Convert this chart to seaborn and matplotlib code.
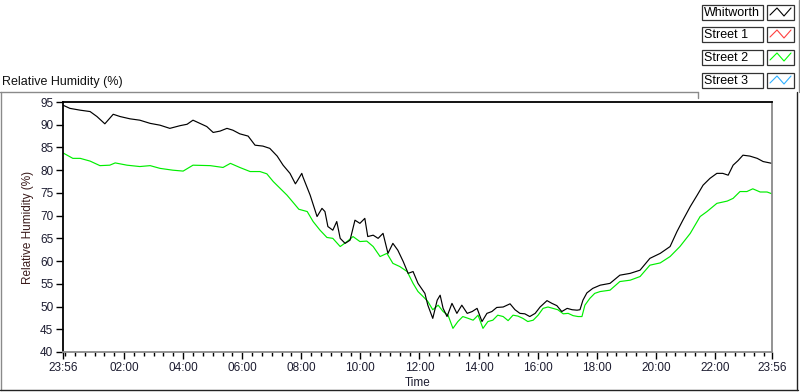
import matplotlib
matplotlib.use("Agg")
import matplotlib.pyplot as plt
from matplotlib.lines import Line2D
from matplotlib.patches import Rectangle
import seaborn as sns
import pandas as pd

# readings taken off the chart: minutes after 23:56, relative humidity (%)
whitworth_min = [0, 14, 35, 55, 69, 85, 102, 116, 136, 156, 177, 197, 217, 238, 252, 264,
                 278, 292, 305, 319, 333, 345, 359, 376, 390, 406, 420, 435, 447, 461, 472,
                 475, 485, 487, 502, 516, 526, 532, 538, 548, 556, 563, 573, 583, 593, 603,
                 613, 619, 630, 640, 650, 660, 670, 680, 691, 701, 711, 721, 735, 741, 751,
                 760, 766, 772, 780, 790, 800, 810, 821, 831, 841, 851, 861, 871, 881, 894,
                 908, 918, 928, 938, 948, 959, 969, 983, 993, 1003, 1013, 1024, 1034, 1044,
                 1050, 1056, 1064, 1076, 1091, 1111, 1131, 1152, 1172, 1192, 1213, 1233,
                 1247, 1259, 1274, 1288, 1300, 1314, 1328, 1340, 1351, 1361, 1371, 1381,
                 1395, 1410, 1422, 1440]
whitworth_rh = [94.3, 93.6, 93.2, 92.9, 91.8, 90.2, 92.3, 91.8, 91.3, 91.0, 90.3, 89.9, 89.2,
                89.8, 90.1, 91.0, 90.3, 89.6, 88.3, 88.6, 89.2, 88.8, 88.0, 87.5, 85.5, 85.3,
                84.8, 83.1, 81.1, 79.3, 77.0, 77.5, 79.3, 78.6, 74.5, 69.8, 71.6, 70.9, 67.6,
                66.8, 68.7, 65.0, 63.9, 64.6, 69.0, 68.3, 69.4, 65.4, 65.7, 65.0, 66.1, 61.7,
                63.9, 62.4, 59.9, 57.3, 57.7, 55.1, 52.9, 50.3, 47.4, 51.4, 52.5, 49.6, 47.8,
                50.7, 48.5, 50.3, 48.5, 48.9, 49.6, 46.7, 48.5, 48.9, 49.8, 49.9, 50.6, 49.3,
                48.5, 48.4, 47.8, 48.5, 49.9, 51.3, 50.7, 50.2, 48.9, 49.6, 49.3, 49.2, 49.3,
                51.4, 53.0, 54.0, 54.7, 55.1, 56.9, 57.3, 58.0, 60.6, 61.7, 63.2, 66.5, 69.0,
                72.0, 74.5, 76.7, 78.2, 79.3, 79.3, 78.9, 81.1, 82.1, 83.3, 83.1, 82.6, 81.9,
                81.5]

street2_min = [0, 20, 35, 55, 75, 95, 106, 130, 156, 177, 197, 223, 244, 264, 299, 325, 340,
               359, 380, 400, 414, 427, 441, 455, 469, 479, 496, 508, 522, 536, 548, 563, 577,
               589, 603, 617, 630, 644, 658, 670, 684, 699, 711, 721, 735, 741, 751, 762, 772,
               782, 792, 802, 812, 823, 833, 843, 853, 863, 873, 883, 894, 904, 914, 924, 934,
               944, 955, 965, 975, 985, 995, 1005, 1016, 1026, 1036, 1046, 1054, 1060, 1070,
               1080, 1091, 1111, 1131, 1152, 1172, 1192, 1213, 1233, 1253, 1274, 1294, 1308,
               1328, 1349, 1361, 1375, 1389, 1401, 1416, 1430, 1440]
street2_rh = [83.8, 82.6, 82.6, 82.0, 81.0, 81.1, 81.6, 81.1, 80.8, 81.0, 80.4, 80.0, 79.8,
              81.1, 81.0, 80.6, 81.5, 80.6, 79.7, 79.7, 79.2, 77.5, 76.0, 74.5, 72.7, 71.4,
              70.9, 68.7, 66.8, 65.2, 65.0, 63.2, 64.3, 65.4, 64.3, 64.4, 63.2, 61.0, 61.7,
              59.5, 58.8, 57.7, 55.1, 53.3, 51.8, 51.1, 49.3, 50.3, 48.9, 48.1, 45.2, 46.7,
              47.8, 47.4, 47.0, 48.1, 45.2, 46.7, 47.0, 48.1, 47.8, 46.9, 48.1, 47.9, 47.4,
              46.7, 47.0, 48.1, 49.6, 49.9, 49.6, 49.3, 48.4, 48.5, 48.0, 47.8, 47.8, 50.3,
              51.8, 52.9, 53.3, 53.6, 55.5, 55.8, 56.6, 59.1, 59.6, 61.0, 63.2, 66.1, 69.8,
              70.9, 72.7, 73.2, 73.8, 75.3, 75.3, 75.9, 75.2, 75.2, 74.8]

legend_names = ["Whitworth", "Street 1", "Street 2", "Street 3"]
legend_colors = ["#000000", "#ff4040", "#00ff00", "#30b0ff"]

tick_pos = [0, 124, 244, 364, 484, 604, 724, 844, 964, 1084, 1204, 1324, 1440]
tick_labels = ["23:56", "02:00", "04:00", "06:00", "08:00", "10:00", "12:00",
               "14:00", "16:00", "18:00", "20:00", "22:00", "23:56"]

sns.set_style("white")
plt.rcParams["font.family"] = ["Liberation Sans", "DejaVu Sans"]
txt = "#1c1c30"

W, H = 800, 392
fig = plt.figure(figsize=(8, 3.92), dpi=100)
ax = fig.add_axes([63 / W, 1 - 352 / H, 709 / W, 250 / H])

whit = pd.DataFrame({"minute": whitworth_min, "rh": whitworth_rh})
st2 = pd.DataFrame({"minute": street2_min, "rh": street2_rh})
sns.lineplot(data=st2, x="minute", y="rh", color="#00ee00", lw=0.85, ax=ax)
sns.lineplot(data=whit, x="minute", y="rh", color="black", lw=0.85, ax=ax)

ax.set_xlim(0, 1440)
ax.set_ylim(40, 95)
ax.set_yticks(range(40, 96, 5))
ax.set_xticks(tick_pos)
ax.set_xticklabels(tick_labels)
ax.set_xticks(range(4, 1440, 20), minor=True)
ax.tick_params(axis="both", which="major", direction="out", length=5, width=1,
               color="black", labelsize=8.5, labelcolor=txt, pad=2, left=True, bottom=True)
ax.tick_params(axis="x", which="minor", direction="out", length=3, width=1,
               color="black", bottom=True)
ax.set_xlabel("Time", fontsize=8.5, color=txt, labelpad=2)
ax.set_ylabel("Relative Humidity (%)", fontsize=8.5, color="#3a1a1a", labelpad=4)
for s in ["top", "left"]:
    ax.spines[s].set_color("black")
    ax.spines[s].set_linewidth(1.3)
for s in ["bottom", "right"]:
    ax.spines[s].set_color("#8a8a8a")
    ax.spines[s].set_linewidth(1.3)


def px(x, y):
    return x / W, 1 - y / H


def fline(x0, y0, x1, y1, color, lw=1.0):
    a, b = px(x0, y0)
    c, d = px(x1, y1)
    fig.add_artist(Line2D([a, c], [b, d], transform=fig.transFigure, color=color, lw=lw))


# outer panel frame
fline(0, 92, 698, 92, "#8a8a8a")
fline(1, 92, 1, 390, "#8a8a8a")
fline(0, 390, 798, 390, "#222222")
fline(797, 92, 797, 390, "#222222")
fline(698, 92, 698, 98, "#8a8a8a")
fline(799, 0, 799, 92, "#8a8a8a")
fig.text(2 / W, 1 - 82 / H, "Relative Humidity (%)", fontsize=9, color="#111111",
         va="center", ha="left")

# legend
row_top = [5, 27, 50, 73]
for name, col, yt in zip(legend_names, legend_colors, row_top):
    x0, y0 = px(702, yt + 15)
    fig.add_artist(Rectangle((x0, y0), 61 / W, 15 / H, transform=fig.transFigure,
                             facecolor="white", edgecolor="#333333", lw=0.9))
    x0, y0 = px(767, yt + 15)
    fig.add_artist(Rectangle((x0, y0), 27 / W, 15 / H, transform=fig.transFigure,
                             facecolor="white", edgecolor="#333333", lw=0.9))
    zx = [770, 777, 784, 791]
    zy = [yt + 10, yt + 3, yt + 11, yt + 3]
    pts = [px(a, b) for a, b in zip(zx, zy)]
    fig.add_artist(Line2D([p[0] for p in pts], [p[1] for p in pts],
                          transform=fig.transFigure, color=col, lw=0.8))
    fig.text(704 / W, 1 - (yt + 8) / H, name, fontsize=9, color="black",
             va="center", ha="left")

fig.savefig("out.png", dpi=100)
